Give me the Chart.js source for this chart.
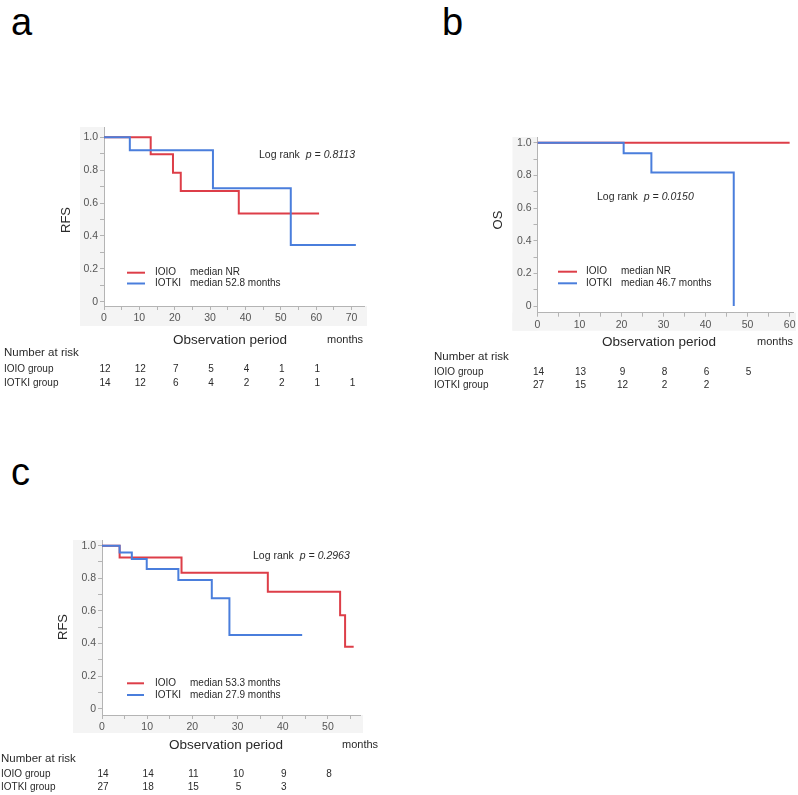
<!DOCTYPE html>
<html><head><meta charset="utf-8">
<script src="https://cdn.jsdelivr.net/npm/chart.js@4/dist/chart.umd.min.js"></script>
<style>
html,body{margin:0;padding:0;background:#fff;}
body{width:798px;height:795px;position:relative;overflow:hidden;font-family:"Liberation Sans",Arial,sans-serif;}
canvas{position:absolute;}
.letter{position:absolute;font-size:38px;line-height:40px;color:#000;font-family:"Liberation Sans",Arial,sans-serif;}
</style></head><body>
<div class="letter" style="left:11px;top:2px">a</div>
<div class="letter" style="left:442px;top:2px">b</div>
<div class="letter" style="left:11px;top:452px">c</div>
<canvas id="ca" width="400" height="400" style="left:0;top:0"></canvas>
<canvas id="cb" width="378" height="400" style="left:420px;top:0"></canvas>
<canvas id="cc" width="400" height="375" style="left:0;top:420px"></canvas>
<script>
// ---------- data ----------
const groups = ['IOIO', 'IOTKI'];
// Panel a (RFS)
const aIOIOTime  = [0, 13.2, 19.5, 21.7, 38.1, 60.8];
const aIOIOSurv  = [1, 0.897, 0.785, 0.673, 0.537, 0.537];
const aIOTKITime = [0, 7.3, 30.8, 52.8, 71.2];
const aIOTKISurv = [1, 0.921, 0.69, 0.345, 0.345];
const aMedians   = ['median NR', 'median 52.8 months'];
const aPValue    = '0.8113';
const aRiskTimes = [0, 10, 20, 30, 40, 50, 60, 70];
const aRiskIOIO  = [12, 12, 7, 5, 4, 1, 1];
const aRiskIOTKI = [14, 12, 6, 4, 2, 2, 1, 1];
// Panel b (OS)
const bIOIOTime  = [0, 60];
const bIOIOSurv  = [1, 1];
const bIOTKITime = [0, 20.5, 27.1, 46.7];
const bIOTKISurv = [1, 0.935, 0.818, 0];
const bMedians   = ['median NR', 'median 46.7 months'];
const bPValue    = '0.0150';
const bRiskTimes = [0, 10, 20, 30, 40, 50];
const bRiskIOIO  = [14, 13, 9, 8, 6, 5];
const bRiskIOTKI = [27, 15, 12, 2, 2];
// Panel c (RFS)
const cIOIOTime  = [0, 3.9, 17.6, 36.7, 52.7, 53.8, 55.7];
const cIOIOSurv  = [1, 0.928, 0.834, 0.718, 0.573, 0.38, 0.38];
const cIOTKITime = [0, 3.9, 6.6, 9.9, 16.9, 24.3, 28.2, 44.3];
const cIOTKISurv = [1, 0.959, 0.918, 0.857, 0.79, 0.677, 0.452, 0.452];
const cMedians   = ['median 53.3 months', 'median 27.9 months'];
const cPValue    = '0.2963';
const cRiskTimes = [0, 10, 20, 30, 40, 50];
const cRiskIOIO  = [14, 14, 11, 10, 9, 8];
const cRiskIOTKI = [27, 18, 15, 5, 3];
const yTickValues = [0, 0.1, 0.2, 0.3, 0.4, 0.5, 0.6, 0.7, 0.8, 0.9, 1.0];

// ---------- styling ----------
const RED = '#dd3e48', BLUE = '#4a7edc';
const AXIS = '#b4b4b4', TICKTXT = '#555', TXT = '#2a2a2a', PANELBG = '#f4f4f4';
const FONT = '"Liberation Sans", Arial, sans-serif';

const kmDecor = {
  id: 'kmDecor',
  beforeDraw(chart, args, o) {
    const ctx = chart.ctx, ca = chart.chartArea;
    const xs = chart.scales.x, ys = chart.scales.y;
    ctx.save();
    ctx.fillStyle = PANELBG;
    ctx.fillRect(ys.left, ca.top, ca.left - ys.left, xs.bottom - ca.top);
    ctx.fillRect(ys.left, ca.bottom, ca.right + 3 - ys.left, xs.bottom - ca.bottom);
    ctx.restore();
  },
  afterDraw(chart, args, o) {
    const ctx = chart.ctx, xs = chart.scales.x;
    const T = (s, x, y, size, align, color, style) => {
      ctx.font = (style || '') + ' ' + size + 'px ' + FONT;
      ctx.textAlign = align || 'left';
      ctx.textBaseline = 'middle';
      ctx.fillStyle = color || TXT;
      ctx.fillText(s, x - o.ox, y - o.oy);
      return ctx.measureText(s).width;
    };
    ctx.save();
    // y axis title
    ctx.save();
    ctx.translate(o.yTitle[0] - o.ox, o.yTitle[1] - o.oy);
    ctx.rotate(-Math.PI / 2);
    ctx.font = '13px ' + FONT; ctx.fillStyle = TXT; ctx.textAlign = 'center'; ctx.textBaseline = 'middle';
    ctx.fillText(o.yTitleText, 0, 0);
    ctx.restore();
    // log rank
    const w = T('Log rank', o.logrank[0], o.logrank[1], 10.5, 'left', TXT);
    T('p = ' + o.p, o.logrank[0] + w + 6, o.logrank[1], 10.5, 'left', TXT, 'italic');
    // legend
    const cols = [RED, BLUE];
    for (let i = 0; i < 2; i++) {
      const y = o.legend.y[i];
      ctx.strokeStyle = cols[i]; ctx.lineWidth = 2;
      ctx.beginPath();
      ctx.moveTo(o.legend.x0 - o.ox, y - o.oy); ctx.lineTo(o.legend.x1 - o.ox, y - o.oy); ctx.stroke();
      T(groups[i], o.legend.xName, y, 10, 'left', TXT);
      T(o.medians[i], o.legend.xMed, y, 10, 'left', TXT);
    }
    // x axis title
    T('Observation period', o.xTitle[0], o.xTitle[1], 13.5, 'center', TXT);
    T('months', o.months[0], o.months[1], 11, 'left', TXT);
    // number at risk
    T('Number at risk', o.risk.x, o.risk.y[0], 11.5, 'left', TXT);
    T('IOIO group', o.risk.x, o.risk.y[1], 10, 'left', TXT);
    T('IOTKI group', o.risk.x, o.risk.y[2], 10, 'left', TXT);
    const rows = [o.riskIOIO, o.riskIOTKI];
    rows.forEach((row, r) => {
      row.forEach((v, i) => {
        const px = xs.getPixelForValue(o.riskTimes[i]) + o.ox + 1;
        T(String(v), px, o.risk.y[r + 1], 10, 'center', TXT);
      });
    });
    ctx.restore();
  }
};

function pts(t, s) { return t.map((x, i) => ({ x: x, y: s[i] })); }

function makeChart(id, p) {
  const xt = [];
  for (let v = 0; v <= p.xTickMax; v += 5) xt.push({ value: v });
  return new Chart(document.getElementById(id), {
    type: 'line',
    data: {
      datasets: [
        { label: groups[1], data: pts(p.t2, p.s2), borderColor: BLUE, borderWidth: 2, stepped: true, pointRadius: 0, fill: false, order: 0 },
        { label: groups[0], data: pts(p.t1, p.s1), borderColor: RED, borderWidth: 2, stepped: true, pointRadius: 0, fill: false, order: 1 }
      ]
    },
    options: {
      responsive: false, animation: false, devicePixelRatio: 1,
      layout: { padding: p.pad },
      plugins: { legend: { display: false }, tooltip: { enabled: false }, kmDecor: p.decor },
      scales: {
        x: {
          type: 'linear', min: 0, max: p.xMax,
          afterBuildTicks: s => { s.ticks = xt.map(t => ({ value: t.value })); },
          afterFit: s => { s.height = p.xH; },
          ticks: { autoSkip: false, maxRotation: 0, padding: 2, color: TICKTXT, font: { size: 10.5, family: FONT },
            callback: v => (v % 10 === 0 ? String(v) : '') },
          grid: { drawOnChartArea: false, tickLength: 4, color: AXIS },
          border: { color: AXIS, width: 1 }
        },
        y: {
          type: 'linear', min: p.yMin, max: p.yMax,
          afterBuildTicks: s => { s.ticks = yTickValues.map(v => ({ value: v })); },
          afterFit: s => { s.width = p.yW; },
          ticks: { autoSkip: false, padding: 2, color: TICKTXT, font: { size: 10.5, family: FONT },
            callback: v => { const k = Math.round(v * 10); return k % 2 === 0 ? (k === 0 ? '0' : (k / 10).toFixed(1)) : ''; } },
          grid: { drawOnChartArea: false, tickLength: 4, color: AXIS },
          border: { color: AXIS, width: 1 }
        }
      }
    },
    plugins: [kmDecor]
  });
}

makeChart('ca', {
  t1: aIOIOTime, s1: aIOIOSurv, t2: aIOTKITime, s2: aIOTKISurv,
  xMax: 73.5, xTickMax: 70, yMin: -0.026, yMax: 1.063, xH: 20, yW: 24,
  pad: { left: 80, top: 127, right: 36, bottom: 74 },
  decor: { ox: 0, oy: 0, yTitleText: 'RFS', yTitle: [66, 220], logrank: [259, 155], p: aPValue,
    legend: { x0: 127, x1: 145, xName: 155, xMed: 190, y: [272.7, 283.5] }, medians: aMedians,
    xTitle: [230, 340], months: [327, 340], risk: { x: 4, y: [353, 369, 383] },
    riskTimes: aRiskTimes, riskIOIO: aRiskIOIO, riskIOTKI: aRiskIOTKI }
});
makeChart('cb', {
  t1: bIOIOTime, s1: bIOIOSurv, t2: bIOTKITime, s2: bIOTKISurv,
  xMax: 60.8, xTickMax: 60, yMin: -0.041, yMax: 1.035, xH: 18, yW: 25,
  pad: { left: 92.5, top: 137, right: 5, bottom: 69.3 },
  decor: { ox: 420, oy: 0, yTitleText: 'OS', yTitle: [498, 220], logrank: [597, 197], p: bPValue,
    legend: { x0: 558, x1: 577, xName: 586, xMed: 621, y: [271.7, 283.3] }, medians: bMedians,
    xTitle: [659, 342], months: [757, 342], risk: { x: 434, y: [357, 372, 385] },
    riskTimes: bRiskTimes, riskIOIO: bRiskIOIO, riskIOTKI: bRiskIOTKI }
});
makeChart('cc', {
  t1: cIOIOTime, s1: cIOIOSurv, t2: cIOTKITime, s2: cIOTKISurv,
  xMax: 57.1, xTickMax: 55, yMin: -0.039, yMax: 1.035, xH: 18, yW: 29,
  pad: { left: 73, top: 120, right: 40, bottom: 62 },
  decor: { ox: 0, oy: 420, yTitleText: 'RFS', yTitle: [63, 627], logrank: [253, 556], p: cPValue,
    legend: { x0: 127, x1: 144, xName: 155, xMed: 190, y: [683.3, 695] }, medians: cMedians,
    xTitle: [226, 745], months: [342, 745], risk: { x: 1, y: [759, 774, 787] },
    riskTimes: cRiskTimes, riskIOIO: cRiskIOIO, riskIOTKI: cRiskIOTKI }
});
</script>
</body></html>
